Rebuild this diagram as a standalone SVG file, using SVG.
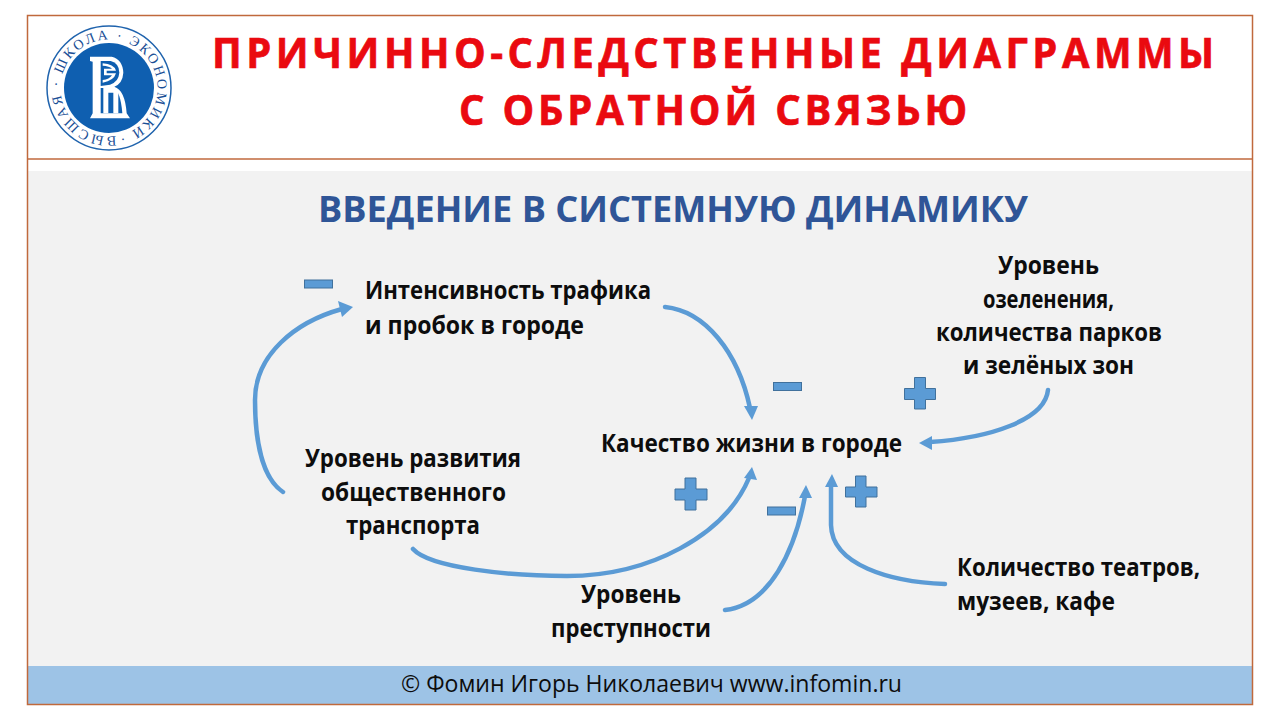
<svg xmlns="http://www.w3.org/2000/svg" width="1280" height="720" viewBox="0 0 1280 720">
<style>
.t{font-family:"Open Sans","Noto Sans",sans-serif;font-weight:700;font-size:25px;fill:#0d0d0d}
.h{font-family:"Open Sans","Noto Sans",sans-serif;font-weight:700;fill:#ea0a10;stroke:#ea0a10;stroke-width:.7;font-size:42px}
.c{fill:none;stroke:#5b9bd5;stroke-width:4.5;stroke-linecap:round}
.s{fill:#5b9bd5;stroke:#41719c;stroke-width:1}
.a{fill:#5b9bd5}
</style>
<rect width="1280" height="720" fill="#fff"/>
<rect x="28" y="171" width="1224" height="496" fill="#f2f2f2"/>
<rect x="28" y="666" width="1224" height="38" fill="#9dc3e6"/>
<rect x="27.500" y="15.500" width="1225" height="689" fill="none" stroke="#c0693c" stroke-width="1.500"/>
<line x1="27" y1="159" x2="1253" y2="159" stroke="#c0693c" stroke-width="1.500"/>
<g id="logo">
<circle cx="109" cy="88" r="62" fill="#fff" stroke="#1f63ad" stroke-width="1.500"/>
<circle cx="109" cy="88" r="45" fill="#0f5fb0"/>
<path id="ring" d="M109 136.500A48.500 48.500 0 1 1 109.010 136.500" fill="none"/>
<text font-family="'Liberation Serif',serif" font-size="14" fill="#1a4f96" transform="rotate(-8 109 88)"><textPath href="#ring" textLength="300">ВЫСШАЯ · ШКОЛА · ЭКОНОМИКИ ·</textPath></text>
<g transform="translate(80 50) scale(.3333)">
<path fill="#fff" d="M30 20H95Q128 28 130 68Q128 100 103 110Q135 120 140 190L150 205H30L38 190V35L30 33Z"/>
<path fill="#0f5fb0" d="M62 33H92Q118 40 118 68Q116 95 90 104L62 108Z"/>
<path fill="#0f5fb0" d="M62 114H100Q122 124 127 190H62Z"/>
<path fill="#fff" d="M68 40Q102 42 108 62H80V70H108Q102 92 68 98V90Q88 88 96 76H72V56H96Q88 48 68 47Z"/>
<path fill="#fff" d="M70 114H108Q114 120 115 128V190H100V128H85V190H70Z"/>
</g>
</g>
<g id="title">
<text class="h" transform="translate(212 67.500) scale(.95 1)" textLength="1055">ПРИЧИННО-СЛЕДСТВЕННЫЕ ДИАГРАММЫ</text>
<text class="h" transform="translate(459 125) scale(.95 1)" textLength="535">С ОБРАТНОЙ СВЯЗЬЮ</text>
</g>
<text id="subtitle" x="318" y="222" font-family="'Open Sans','Noto Sans',sans-serif" font-weight="700" font-size="36" fill="#2f5597" textLength="710" lengthAdjust="spacingAndGlyphs">ВВЕДЕНИЕ В СИСТЕМНУЮ ДИНАМИКУ</text>
<g id="connectors">
<path class="c" d="M283 492C262 478 255 440 255 400C255 355 295 322 342 309"/><path class="a" d="M353 307L338 301L342 317Z"/>
<path class="c" d="M665 307C705 311 738 352 750 408"/><path class="a" d="M752 420L744 406H758Z"/>
<path class="c" d="M1048 390C1045 420 990 438 930 442"/><path class="a" d="M919 443L932 436V450Z"/>
<path class="c" d="M413 549C430 568 510 576 567 576C650 576 725 535 749 478"/><path class="a" d="M752 467L757 480L744 478Z"/>
<path class="c" d="M725 610C770 605 795 550 805 496"/><path class="a" d="M806 485L812 498H799Z"/>
<path class="c" d="M945 584C890 582 832 565 831 525V486"/><path class="a" d="M832 474L838 487H825Z"/>
</g>
<g id="sign-1"><rect class="s" x="304.500" y="280" width="28" height="8"/></g>
<g id="sign-2"><rect class="s" x="773.500" y="382.500" width="28" height="8"/></g>
<g id="sign-3"><path class="s" d="M914.500 377.500H925.500V388.500H935.500V399.500H925.500V409H914.500V399.500H904.500V388.500H914.500Z"/></g>
<g id="sign-4"><path class="s" d="M685 478H696V489H707V500H696V510H685V500H675V489H685Z"/></g>
<g id="sign-5"><rect class="s" x="767.500" y="507" width="28" height="8"/></g>
<g id="sign-6"><path class="s" d="M855.500 476H866V487H877V497H866V507H855.500V497H845.500V487H855.500Z"/></g>
<g id="node-traffic"><text class="t" x="365" y="299" textLength="286" lengthAdjust="spacingAndGlyphs">Интенсивность трафика</text><text class="t" x="365" y="334" textLength="219" lengthAdjust="spacingAndGlyphs">и пробок в городе</text></g>
<g id="node-green"><text class="t" x="998" y="274" textLength="101" lengthAdjust="spacingAndGlyphs">Уровень</text><text class="t" x="983" y="308" textLength="131" lengthAdjust="spacingAndGlyphs">озеленения,</text><text class="t" x="936" y="341" textLength="226" lengthAdjust="spacingAndGlyphs">количества парков</text><text class="t" x="963" y="374" textLength="171" lengthAdjust="spacingAndGlyphs">и зелёных зон</text></g>
<g id="node-quality"><text class="t" x="601" y="452" textLength="301" lengthAdjust="spacingAndGlyphs">Качество жизни в городе</text></g>
<g id="node-transport"><text class="t" x="305" y="467" textLength="216" lengthAdjust="spacingAndGlyphs">Уровень развития</text><text class="t" x="321" y="501" textLength="185" lengthAdjust="spacingAndGlyphs">общественного</text><text class="t" x="346" y="534" textLength="134" lengthAdjust="spacingAndGlyphs">транспорта</text></g>
<g id="node-crime"><text class="t" x="581" y="603" textLength="100" lengthAdjust="spacingAndGlyphs">Уровень</text><text class="t" x="551" y="637" textLength="160" lengthAdjust="spacingAndGlyphs">преступности</text></g>
<g id="node-culture"><text class="t" x="957" y="576" textLength="243" lengthAdjust="spacingAndGlyphs">Количество театров,</text><text class="t" x="957" y="610" textLength="158" lengthAdjust="spacingAndGlyphs">музеев, кафе</text></g>
<text id="footer" x="401" y="692" font-family="'Open Sans','Noto Sans',sans-serif" font-size="23.500" fill="#0d0d0d" textLength="501" lengthAdjust="spacingAndGlyphs">© Фомин Игорь Николаевич www.infomin.ru</text>
</svg>
